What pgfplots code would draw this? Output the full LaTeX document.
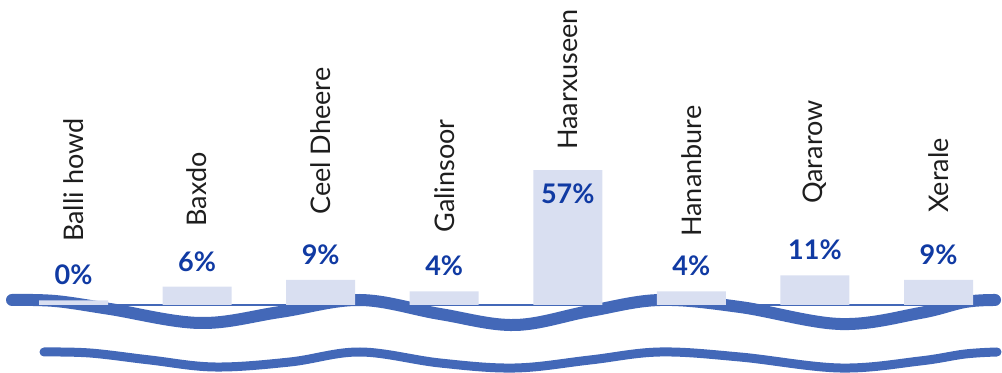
\documentclass[border=0pt]{standalone}
\usepackage{pgfplots}
\usepackage{pgfplotstable}
\pgfplotsset{compat=1.18}
\usepackage{fontspec}
\setmainfont{Lato}
\definecolor{barfill}{RGB}{217,223,241}
\definecolor{wave}{RGB}{67,104,184}
\definecolor{pctblue}{RGB}{16,58,163}
\definecolor{namecol}{RGB}{30,30,30}

\pgfplotstableread[col sep=comma]{
x,v,ny,name,off
0,0,27.5,Balli howd,7.5
1,6,34.1,Baxdo,7.5
2,9,39.3,Ceel Dheere,7.5
3,4,31.5,Galinsoor,7.5
4,57,67.7,Haarxuseen,-17.3
5,4,29.7,Hananbure,7.5
6,11,44.1,Qararow,7.5
7,9,40.2,Xerale,7.5
}\data

\begin{document}
\begin{tikzpicture}
\path[use as bounding box] (0,0) rectangle (501pt,-186.5pt);
\begin{scope}[x=0.5pt,y=-0.5pt,line cap=round,color=wave]
\draw[line width=6pt] plot[smooth,tension=0.6] coordinates {(12,300) (55,301) (110,309) (200,323) (280,312) (360,300) (440,314) (515,325) (590,311) (660,300) (740,307) (840,324) (920,313) (965,302) (995,300)};
\draw[line width=4.5pt] plot[smooth,tension=0.6] coordinates {(44,352) (90,353) (150,360) (215,367) (290,362) (360,352) (440,363) (515,368) (590,360) (660,352) (740,357) (840,368) (920,361) (965,354) (997,352)};
\end{scope}
\begin{axis}[
  x=61.786pt, y=1.144pt,
  anchor=origin, at={(36.75pt,-152.5pt)},
  xmin=-0.28, xmax=7.28, ymin=0, ymax=70,
  axis x line*=bottom, hide y axis,
  axis line style={draw=wave, line width=1.25pt},
  xtick=\empty, ytick=\empty,
  clip=false,
]
\addplot[ybar, bar width=34.5pt, fill=barfill, draw=none,
  point meta=explicit symbolic,
  visualization depends on={\thisrow{off} \as \off},
  nodes near coords={\pgfplotspointmeta\%},
  nodes near coords style={font=\fontsize{13.5}{16}\bfseries\selectfont, text=pctblue, inner sep=0pt, anchor=south, yshift=\off pt},
] table[x=x, y expr=\thisrow{v}+2, meta=v] {\data};
\addplot[draw=none, mark=none,
  point meta=explicit symbolic,
  nodes near coords,
  nodes near coords style={font=\fontsize{13.5}{16}\selectfont, text=namecol, inner sep=0pt, rotate=90, anchor=west},
] table[x=x, y=ny, meta=name] {\data};
\end{axis}
\end{tikzpicture}
\end{document}
